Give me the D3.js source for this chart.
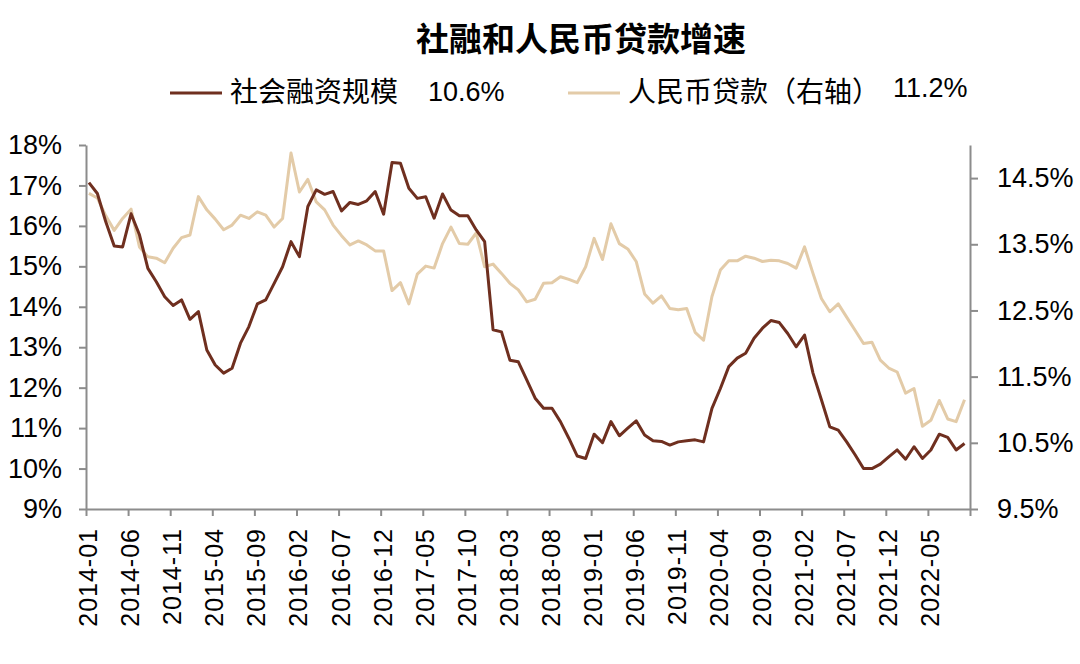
<!DOCTYPE html>
<html>
<head>
<meta charset="utf-8">
<script src="https://cdn.jsdelivr.net/npm/d3@7"></script>
<style>
body { margin: 0; background: #fff; }
svg { display: block; }
.axis path, .axis line { stroke: #8c8c8c; stroke-width: 2; }
.axis text { font-family: 'Liberation Sans', Arial, sans-serif; fill: #000; }
</style>
</head>
<body>
<svg id="chart" width="1080" height="664"></svg>
<script>
// 2014-01 .. 2022-09, monthly
const tickLabels = ['2014-01', '2014-06', '2014-11', '2015-04', '2015-09', '2016-02', '2016-07',
    '2016-12', '2017-05', '2017-10', '2018-03', '2018-08', '2019-01', '2019-06', '2019-11',
    '2020-04', '2020-09', '2021-02', '2021-07', '2021-12', '2022-05'];

// 社会融资规模 (left axis)
const tsfGrowth = [
    17.07, 16.8, 16.1, 15.5, 15.48, 16.3, 15.78, 14.95, 14.62, 14.25,
    14.03, 14.17, 13.69, 13.88, 12.93, 12.56, 12.36, 12.48, 13.1, 13.51,
    14.07, 14.17, 14.58, 14.99, 15.61, 15.24, 16.48, 16.89, 16.78, 16.85,
    16.37, 16.58, 16.53, 16.62, 16.85, 16.29, 17.57, 17.55, 16.93, 16.68,
    16.72, 16.19, 16.79, 16.39, 16.25, 16.25, 15.9, 15.61, 13.43, 13.38,
    12.68, 12.64, 12.19, 11.74, 11.49, 11.49, 11.16, 10.75, 10.31, 10.25,
    10.85, 10.64, 11.16, 10.81, 11.0, 11.18, 10.83, 10.69, 10.67, 10.58,
    10.66, 10.69, 10.71, 10.66, 11.49, 11.98, 12.52, 12.73, 12.85, 13.22,
    13.47, 13.66, 13.61, 13.34, 13.01, 13.3, 12.36, 11.7, 11.03, 10.95,
    10.66, 10.34, 10.0, 10.0, 10.11, 10.29, 10.46, 10.23, 10.54, 10.25,
    10.46, 10.85, 10.77, 10.46, 10.62
];

// 人民币贷款 (right axis)
const loanGrowth = [
    14.27, 14.2, 13.93, 13.71, 13.89, 14.03, 13.46, 13.31, 13.29, 13.22,
    13.44, 13.6, 13.64, 14.22, 14.02, 13.88, 13.72, 13.79, 13.94, 13.89,
    13.99, 13.94, 13.76, 13.89, 14.88, 14.29, 14.48, 14.14, 14.02, 13.79,
    13.63, 13.49, 13.55, 13.49, 13.4, 13.4, 12.8, 12.92, 12.6, 13.05,
    13.17, 13.14, 13.51, 13.76, 13.51, 13.5, 13.67, 13.16, 13.2, 13.06,
    12.91, 12.81, 12.63, 12.67, 12.91, 12.92, 13.01, 12.97, 12.92, 13.16,
    13.59, 13.27, 13.81, 13.51, 13.43, 13.24, 12.75, 12.61, 12.72, 12.53,
    12.51, 12.53, 12.17, 12.05, 12.71, 13.11, 13.25, 13.25, 13.32, 13.29,
    13.24, 13.26, 13.25, 13.21, 13.14, 13.46, 13.06, 12.68, 12.48, 12.6,
    12.4, 12.2, 12.0, 12.02, 11.75, 11.63, 11.57, 11.25, 11.32, 10.75,
    10.84, 11.14, 10.86, 10.82, 11.15
];

const leftTicks = [9, 10, 11, 12, 13, 14, 15, 16, 17, 18];
const rightTicks = [9.5, 10.5, 11.5, 12.5, 13.5, 14.5];

const brown = '#6f2f1f';
const beige = '#e3cba8';
const cjk = "'Noto Sans CJK SC', 'Noto Sans', sans-serif";
const latin = "'Liberation Sans', Arial, sans-serif";

const svg = d3.select('#chart');

const x = d3.scaleLinear().domain([0, 105]).range([86, 970]);
const yLeft = d3.scaleLinear().domain([9, 18]).range([509, 145]);
const yRight = d3.scaleLinear().domain([9.5, 15]).range([509, 145]);

// point position inside its month slot
const off = 0.35;

// axes
const gx = svg.append('g')
    .attr('class', 'axis')
    .attr('transform', 'translate(0,509)')
    .call(d3.axisBottom(x)
        .tickValues(d3.range(0, 106, 5))
        .tickSize(7)
        .tickSizeOuter(0)
        .tickFormat(function(d, i) { return tickLabels[i] || ''; }));

gx.selectAll('text')
    .attr('transform', 'rotate(-90)')
    .attr('text-anchor', 'end')
    .attr('x', -19)
    .attr('y', 0)
    .attr('dy', '0.42em')
    .style('font-size', '25px')
    .style('letter-spacing', '1px');

svg.append('g')
    .attr('class', 'axis')
    .attr('transform', 'translate(86,0)')
    .call(d3.axisLeft(yLeft)
        .tickValues(leftTicks)
        .tickSize(7)
        .tickSizeOuter(0)
        .tickPadding(17)
        .tickFormat(function(d) { return d + '%'; }))
    .selectAll('text')
    .style('font-size', '27px');

svg.append('g')
    .attr('class', 'axis')
    .attr('transform', 'translate(970,0)')
    .call(d3.axisRight(yRight)
        .tickValues(rightTicks)
        .tickSize(8)
        .tickSizeOuter(0)
        .tickPadding(19)
        .tickFormat(function(d) { return d.toFixed(1) + '%'; }))
    .selectAll('text')
    .style('font-size', '27px');

// lines
const loanLine = d3.line()
    .x(function(d, i) { return x(i + off); })
    .y(function(d) { return yRight(d); });

const tsfLine = d3.line()
    .x(function(d, i) { return x(i + off); })
    .y(function(d) { return yLeft(d); });

svg.append('path')
    .datum(loanGrowth)
    .attr('fill', 'none')
    .attr('stroke', beige)
    .attr('stroke-width', 3)
    .attr('stroke-linejoin', 'round')
    .attr('d', loanLine);

svg.append('path')
    .datum(tsfGrowth)
    .attr('fill', 'none')
    .attr('stroke', brown)
    .attr('stroke-width', 3)
    .attr('stroke-linejoin', 'round')
    .attr('d', tsfLine);

// title
svg.append('text')
    .attr('x', 581)
    .attr('y', 51)
    .attr('text-anchor', 'middle')
    .style('font-family', cjk)
    .style('font-size', '33px')
    .style('font-weight', 'bold')
    .text('社融和人民币贷款增速');

// legend
const legend = [
    {name: '社会融资规模', value: tsfGrowth[tsfGrowth.length - 1].toFixed(1) + '%', color: brown,
        lx: 170, tx: 230, vx: 428, vy: 101},
    {name: '人民币贷款（右轴）', value: loanGrowth[loanGrowth.length - 1].toFixed(1) + '%', color: beige,
        lx: 568, tx: 628, vx: 893, vy: 97}
];

const lg = svg.append('g');

lg.selectAll('line')
    .data(legend)
    .join('line')
    .attr('x1', function(d) { return d.lx; })
    .attr('x2', function(d) { return d.lx + 52; })
    .attr('y1', 93)
    .attr('y2', 93)
    .attr('stroke', function(d) { return d.color; })
    .attr('stroke-width', 3);

lg.selectAll('text.name')
    .data(legend)
    .join('text')
    .classed('name', true)
    .attr('x', function(d) { return d.tx; })
    .attr('y', 102)
    .style('font-family', cjk)
    .style('font-size', '28px')
    .text(function(d) { return d.name; });

lg.selectAll('text.value')
    .data(legend)
    .join('text')
    .classed('value', true)
    .attr('x', function(d) { return d.vx; })
    .attr('y', function(d) { return d.vy; })
    .style('font-family', latin)
    .style('font-size', '27px')
    .text(function(d) { return d.value; });
</script>
</body>
</html>
